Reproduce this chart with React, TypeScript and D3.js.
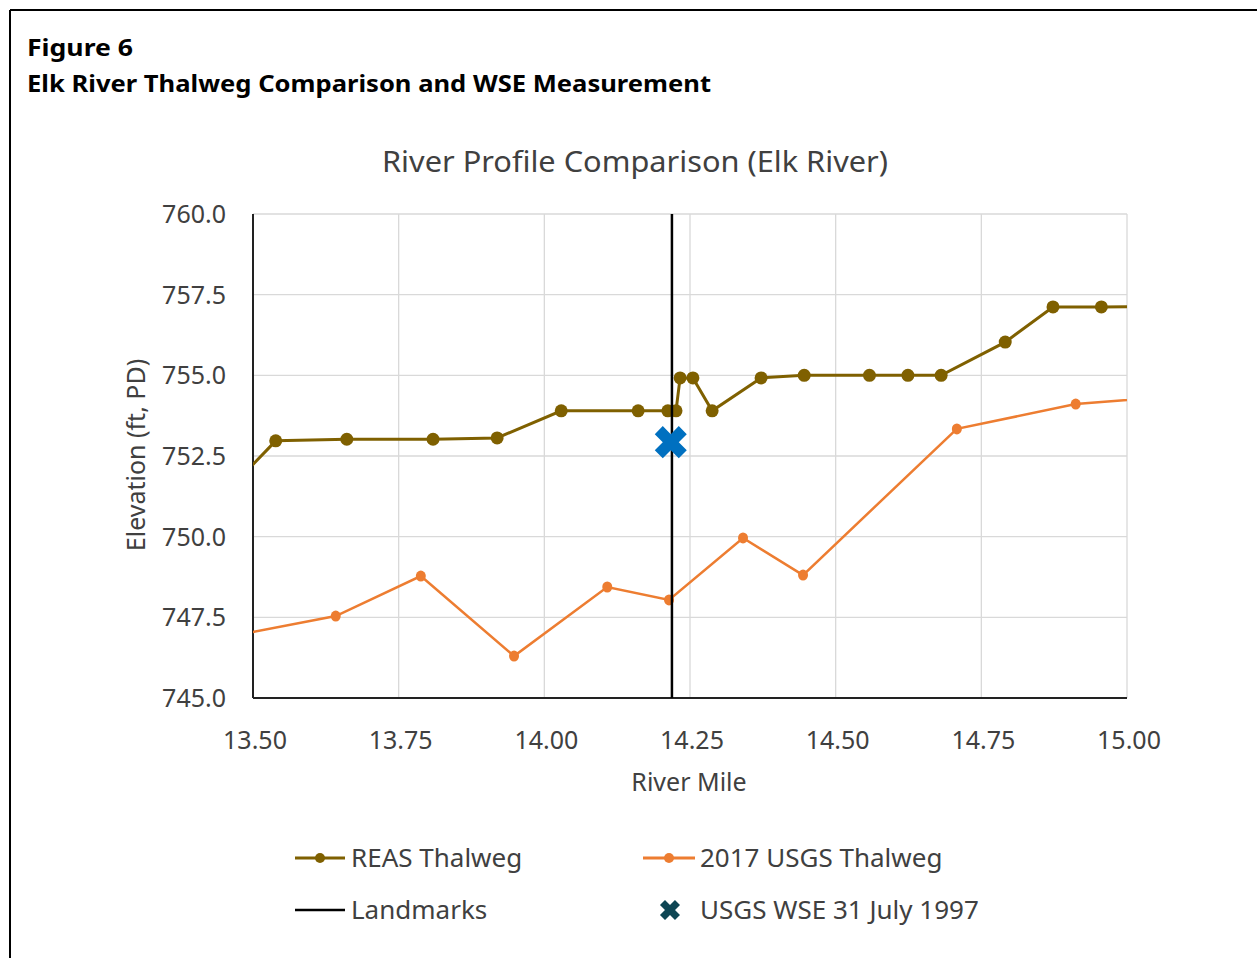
import React from 'react';
import * as d3 from 'd3';

// REAS thalweg (river mile, elevation ft PD); first/last points sit just outside the axis range
const reasMile = [13.45, 13.539, 13.661, 13.809, 13.919, 14.029, 14.161, 14.212, 14.226, 14.233, 14.255, 14.288, 14.372, 14.446, 14.558, 14.624, 14.681, 14.791, 14.873, 14.956, 15.05];
const reasElev = [751.3, 752.97, 753.02, 753.02, 753.06, 753.9, 753.9, 753.9, 753.9, 754.92, 754.92, 753.9, 754.92, 755.0, 755.0, 755.0, 755.0, 756.03, 757.12, 757.12, 757.14];

// 2017 USGS thalweg
const usgsMile = [13.4, 13.642, 13.788, 13.948, 14.108, 14.214, 14.341, 14.444, 14.708, 14.912, 15.1];
const usgsElev = [746.7, 747.54, 748.78, 746.3, 748.44, 748.04, 749.96, 748.81, 753.34, 754.11, 754.38];

const landmarkMile = [14.219];
const wseMile = [14.217];
const wseElev = [752.93];

const xTicks = [13.5, 13.75, 14.0, 14.25, 14.5, 14.75, 15.0];
const yTicks = [745, 747.5, 750, 752.5, 755, 757.5, 760];

const legendItems = ['REAS Thalweg', '2017 USGS Thalweg', 'Landmarks', 'USGS WSE 31 July 1997'];

const W = 1257;
const H = 958;
const plot = {left: 253, right: 1127, top: 214, bottom: 698};
const font = "'Noto Sans', 'Open Sans', sans-serif";
const olive = '#7F6000';
const orange = '#ED7D31';
const textColor = '#404040';

export default function App() {
	const x = d3.scaleLinear().domain([13.5, 15.0]).range([plot.left, plot.right]);
	const y = d3.scaleLinear().domain([745, 760]).range([plot.bottom, plot.top]);

	const line = d3.line<[number, number]>().x(d => x(d[0])).y(d => y(d[1]));
	const reas = reasMile.map((m, i) => [m, reasElev[i]] as [number, number]);
	const usgs = usgsMile.map((m, i) => [m, usgsElev[i]] as [number, number]);

	const bigX = d3.symbol().type(d3.symbolCross).size(640)()!;
	const smallX = d3.symbol().type(d3.symbolCross).size(250)()!;

	return (
		<svg width={W} height={H} style={{position: 'absolute', left: 0, top: 0, display: 'block'}} fontFamily={font}>
			<rect width={W} height={H} fill="#fff"/>
			{/* page frame */}
			<line x1={10} x2={W} y1={10} y2={10} stroke="#000" strokeWidth={2}/>
			<line x1={10} x2={10} y1={10} y2={H} stroke="#000" strokeWidth={2}/>

			<text x={27} y={56} fontSize={24} fontWeight="bold" fill="#000" textLength={106} lengthAdjust="spacingAndGlyphs">Figure 6</text>
			<text x={27} y={92} fontSize={24} fontWeight="bold" fill="#000" textLength={684} lengthAdjust="spacingAndGlyphs">Elk River Thalweg Comparison and WSE Measurement</text>

			<text x={635} y={172} fontSize={29} textAnchor="middle" fill={textColor} textLength={506} lengthAdjust="spacingAndGlyphs">River Profile Comparison (Elk River)</text>

			<defs>
				<clipPath id="plot-clip">
					<rect x={plot.left} y={plot.top - 10} width={plot.right - plot.left} height={plot.bottom - plot.top + 10}/>
				</clipPath>
			</defs>

			{/* grid */}
			<g stroke="#d9d9d9" strokeWidth={1.3}>
				{xTicks.slice(1).map(t => <line key={'gx' + t} x1={x(t)} x2={x(t)} y1={plot.top} y2={plot.bottom}/>)}
				{yTicks.slice(1).map(t => <line key={'gy' + t} x1={plot.left} x2={plot.right} y1={y(t)} y2={y(t)}/>)}
			</g>

			{/* axes */}
			<line x1={plot.left} x2={plot.left} y1={plot.top} y2={plot.bottom} stroke="#222" strokeWidth={2}/>
			<line x1={plot.left} x2={plot.right} y1={plot.bottom} y2={plot.bottom} stroke="#222" strokeWidth={2}/>

			<g fontSize={25} fill={textColor}>
				{yTicks.map(t => (
					<text key={'ty' + t} x={226} y={y(t) + 9} textAnchor="end">{d3.format('.1f')(t)}</text>
				))}
				{xTicks.map(t => (
					<text key={'tx' + t} x={x(t) + 2} y={749} textAnchor="middle">{d3.format('.2f')(t)}</text>
				))}
			</g>
			<text x={689} y={791} fontSize={25} textAnchor="middle" fill={textColor}>River Mile</text>
			<text transform={`translate(145,${(plot.top + plot.bottom) / 2 - 1}) rotate(-90)`} fontSize={25} textAnchor="middle" fill={textColor}>Elevation (ft, PD)</text>

			<g clipPath="url(#plot-clip)">
				<path d={line(usgs)!} fill="none" stroke={orange} strokeWidth={2.5}/>
				{usgs.map((d, i) => <ellipse key={'u' + i} cx={x(d[0])} cy={y(d[1])} rx={5} ry={5.5} fill={orange}/>)}
				<path d={line(reas)!} fill="none" stroke={olive} strokeWidth={3}/>
				{reas.map((d, i) => <circle key={'r' + i} cx={x(d[0])} cy={y(d[1])} r={6.5} fill={olive}/>)}
			</g>

			{landmarkMile.map(m => (
				<line key={'lm' + m} x1={x(m)} x2={x(m)} y1={plot.top} y2={plot.bottom} stroke="#000" strokeWidth={2.5}/>
			))}
			{wseMile.map((m, i) => (
				<path key={'w' + i} d={bigX} transform={`translate(${x(m)},${y(wseElev[i])}) rotate(45)`} fill="#0070C0"/>
			))}

			{/* legend */}
			<g fontSize={26} fill={textColor}>
				<line x1={295} x2={345} y1={858} y2={858} stroke={olive} strokeWidth={3}/>
				<circle cx={320} cy={858} r={5} fill={olive}/>
				<text x={351} y={867}>{legendItems[0]}</text>

				<line x1={643} x2={695} y1={858} y2={858} stroke={orange} strokeWidth={3}/>
				<circle cx={669} cy={858} r={5} fill={orange}/>
				<text x={700} y={867}>{legendItems[1]}</text>

				<line x1={295} x2={345} y1={910} y2={910} stroke="#000" strokeWidth={2.5}/>
				<text x={351} y={919}>{legendItems[2]}</text>

				<path d={smallX} transform="translate(670,910) rotate(45)" fill="#0E4654"/>
				<text x={700} y={919}>{legendItems[3]}</text>
			</g>
		</svg>
	);
}
